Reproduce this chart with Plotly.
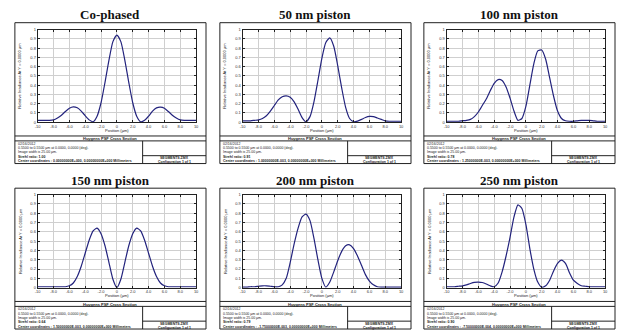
import plotly.graph_objects as go

W, H = 618, 333

# ---------------- data ----------------
positions = [-10.0, -9.5, -9.0, -8.5, -8.0, -7.5, -7.0, -6.5, -6.0, -5.5, -5.0, -4.5, -4.0, -3.5, -3.0, -2.5,
             -2.0, -1.5, -1.0, -0.5, 0.0, 0.5, 1.0, 1.5, 2.0, 2.5, 3.0, 3.5, 4.0, 4.5, 5.0, 5.5, 6.0, 6.5,
             7.0, 7.5, 8.0, 8.5, 9.0, 9.5, 10.0]

titles = ["Co-phased", "50 nm piston", "100 nm piston", "150 nm piston", "200 nm piston", "250 nm piston"]

cophased = [0.02, 0.02, 0.02, 0.02, 0.025, 0.045, 0.075, 0.115, 0.15, 0.165, 0.155, 0.12, 0.07, 0.025, 0.005, 0.065,
            0.21, 0.43, 0.67, 0.87, 0.94, 0.87, 0.67, 0.43, 0.21, 0.065, 0.005, 0.02, 0.065, 0.12, 0.155, 0.163,
            0.15, 0.115, 0.075, 0.045, 0.025, 0.02, 0.02, 0.02, 0.02]
piston_50 = [0.015, 0.015, 0.015, 0.02, 0.025, 0.04, 0.07, 0.12, 0.18, 0.24, 0.275, 0.285, 0.27, 0.22, 0.14, 0.05,
             0.005, 0.06, 0.22, 0.45, 0.69, 0.86, 0.91, 0.82, 0.61, 0.37, 0.16, 0.04, 0.005, 0.012, 0.03, 0.05,
             0.062, 0.06, 0.045, 0.03, 0.015, 0.01, 0.01, 0.01, 0.01]
piston_100 = [0.01, 0.01, 0.01, 0.01, 0.015, 0.02, 0.03, 0.06, 0.11, 0.18, 0.25, 0.34, 0.42, 0.46, 0.45, 0.38,
              0.26, 0.12, 0.02, 0.04, 0.17, 0.40, 0.63, 0.77, 0.78, 0.68, 0.48, 0.28, 0.12, 0.04, 0.015, 0.01,
              0.01, 0.015, 0.02, 0.02, 0.02, 0.015, 0.01, 0.01, 0.01]
piston_150 = [0.01, 0.01, 0.01, 0.01, 0.01, 0.01, 0.01, 0.01, 0.02, 0.05, 0.12, 0.23, 0.37, 0.51, 0.61, 0.64,
              0.58, 0.45, 0.27, 0.09, 0.0, 0.09, 0.27, 0.45, 0.58, 0.64, 0.61, 0.51, 0.37, 0.23, 0.12, 0.05,
              0.02, 0.01, 0.01, 0.01, 0.01, 0.01, 0.01, 0.01, 0.01]
piston_200 = [0.005, 0.005, 0.01, 0.01, 0.015, 0.02, 0.02, 0.015, 0.01, 0.01, 0.03, 0.1, 0.27, 0.47, 0.64, 0.76,
              0.79, 0.72, 0.53, 0.30, 0.10, 0.005, 0.06, 0.17, 0.29, 0.39, 0.45, 0.46, 0.42, 0.34, 0.24, 0.14,
              0.07, 0.03, 0.01, 0.005, 0.005, 0.005, 0.005, 0.005, 0.005]
piston_250 = [0.01, 0.01, 0.01, 0.015, 0.02, 0.03, 0.045, 0.057, 0.06, 0.055, 0.04, 0.02, 0.01, 0.05, 0.17, 0.34,
              0.54, 0.76, 0.89, 0.85, 0.68, 0.42, 0.20, 0.06, 0.005, 0.02, 0.08, 0.18, 0.26, 0.295, 0.26, 0.16,
              0.08, 0.045, 0.02, 0.015, 0.01, 0.01, 0.01, 0.01, 0.01]
series = [cophased, piston_50, piston_100, piston_150, piston_200, piston_250]

x_tick_vals = [-10, -8, -6, -4, -2, 0, 2, 4, 6, 8, 10]
x_tick_text = ["-10", "-8.0", "-6.0", "-4.0", "-2.0", "0", "2.0", "4.0", "6.0", "8.0", "10"]
y_tick_vals = [0, 0.1, 0.2, 0.3, 0.4, 0.5, 0.6, 0.7, 0.8, 0.9, 1.0]
y_tick_text = ["0", "0.1", "0.2", "0.3", "0.4", "0.5", "0.6", "0.7", "0.8", "0.9", "1"]

strehl = ["1.00", "0.91", "0.78", "0.64", "0.79", "0.90"]
center_x = ["0.00000000E+000", "1.00000000E-003", "1.25000000E-003", "1.50000000E-003", "-1.75000000E-003", "-7.50000000E-004"]

# ---------------- layout geometry (pixels) ----------------
box_left = [12, 219, 425]
box_w = 193
box_top = [20, 188]
box_bot = [163, 331]
plot_top = [27, 194.5]
plot_bot = [121, 289]
div1 = [135, 303]
div2 = [140, 308]
inner = [155, 323]
title_y = [12, 180]

def px(x):
    return x / W

def py(y):
    return 1 - y / H

fig = go.Figure()
shapes = []
annotations = []
small = dict(family="Liberation Sans", size=4, color="#222222")
tiny = dict(family="Liberation Sans", size=3.5, color="#222222")

def note(text, x, y, font, xanchor="center", angle=0):
    annotations.append(dict(text=text, xref="paper", yref="paper", x=px(x), y=py(y),
                            xanchor=xanchor, yanchor="middle", showarrow=False, font=font,
                            textangle=angle, borderpad=0))

for i, (title, ys) in enumerate(zip(titles, series)):
    r, c = divmod(i, 3)
    L = box_left[c]
    pl, pr = L + 23, L + 183
    k = "" if i == 0 else str(i + 1)
    fig.add_trace(go.Scatter(x=positions, y=ys, mode="lines",
                             line=dict(color="#23237d", width=1.2, shape="spline", smoothing=0.6),
                             xaxis="x" + k, yaxis="y" + k, showlegend=False, hoverinfo="skip"))
    common = dict(showline=True, linecolor="#222222", linewidth=1, mirror="allticks", ticks="inside",
                  ticklen=2, tickcolor="#222222", showgrid=True, gridcolor="#cfcfcf", gridwidth=1,
                  zeroline=False, tickfont=dict(family="Liberation Sans", size=4, color="#333333"))
    fig.update_layout(**{
        "xaxis" + k: dict(domain=[px(pl), px(pr)], range=[-10, 10], tickmode="array",
                         tickvals=x_tick_vals, ticktext=x_tick_text, anchor="y" + k, **common),
        "yaxis" + k: dict(domain=[py(plot_bot[r]), py(plot_top[r])], range=[0, 1], tickmode="array",
                         tickvals=y_tick_vals, ticktext=y_tick_text, anchor="x" + k, **common),
    })
    # frame and dividers
    shapes.append(dict(type="rect", xref="paper", yref="paper", x0=px(L), x1=px(L + box_w),
                       y0=py(box_bot[r]), y1=py(box_top[r]), line=dict(color="#222222", width=1)))
    for yy in (div1[r], div2[r]):
        shapes.append(dict(type="line", xref="paper", yref="paper", x0=px(L), x1=px(L + box_w),
                           y0=py(yy), y1=py(yy), line=dict(color="#222222", width=1)))
    shapes.append(dict(type="line", xref="paper", yref="paper", x0=px(L + 129), x1=px(L + 129),
                       y0=py(div2[r]), y1=py(box_bot[r]), line=dict(color="#222222", width=1)))
    shapes.append(dict(type="line", xref="paper", yref="paper", x0=px(L + 129), x1=px(L + box_w),
                       y0=py(inner[r]), y1=py(inner[r]), line=dict(color="#222222", width=1)))
    # title
    note("<b>" + title + "</b>", L + box_w / 2, title_y[r],
         dict(family="Liberation Serif", size=13, color="#111111"))
    # axis titles
    note("Relative Irradiance At Y = 0.0000 µm", L + 5, (plot_top[r] + plot_bot[r]) / 2, small, angle=-90)
    note("Position (µm)", (pl + pr) / 2, plot_bot[r] + 8, small)
    note("<b>Huygens PSF Cross Section</b>", L + box_w / 2, div1[r] + 2.6, small)
    lines = ["02/16/2012",
             "0.5500 to 0.5500 µm at 0.0000, 0.0000 (deg).",
             "Image width is 25.00 µm.",
             "<b>Strehl ratio: " + strehl[i] + "</b>",
             "<b>Center coordinates : " + center_x[i] + ", 0.00000000E+000 Millimeters</b>"]
    for j, t in enumerate(lines):
        note(t, L + 2, div2[r] + 2.8 + j * 4.45, tiny, xanchor="left")
    for j, t in enumerate(["SEGMENTS.ZMX", "Configuration 1 of 1"]):
        note("<b>" + t + "</b>", L + 161, inner[r] + 2.7 + j * 4.2, tiny)

fig.update_layout(width=W, height=H, margin=dict(l=0, r=0, t=0, b=0), autosize=False,
                  paper_bgcolor="white", plot_bgcolor="white", shapes=shapes, annotations=annotations)
fig.write_html("out.html", config={"displayModeBar": False},
               post_script="document.body.style.margin='0';")
